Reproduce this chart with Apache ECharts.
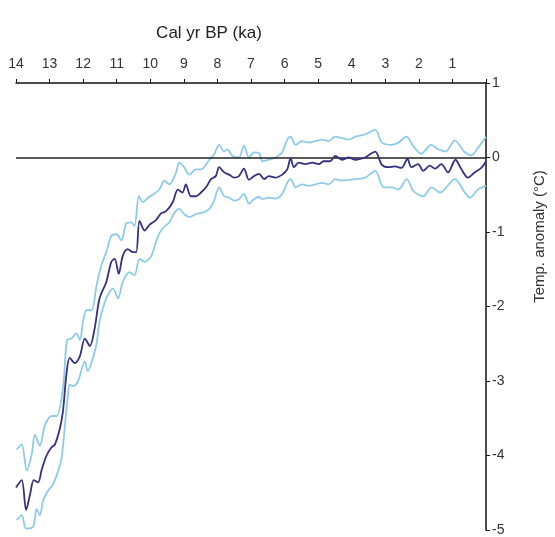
<!DOCTYPE html>
<html>
<head>
<meta charset="utf-8">
<script src="https://cdn.jsdelivr.net/npm/echarts@6/dist/echarts.min.js"></script>
<style>
  html, body { margin: 0; padding: 0; background: #fff; }
  #chart { width: 555px; height: 537px; }
</style>
</head>
<body>
<div id="chart"></div>
<script>
// ages in ka BP, temperatures in °C anomaly
var meanAge = [14.0, 13.83, 13.7, 13.58, 13.47, 13.34, 13.24, 13.09, 12.94, 12.84, 12.69, 12.6, 12.5, 12.4, 12.25, 12.1, 11.95, 11.8, 11.66, 11.51, 11.31, 11.16, 11.06, 10.94, 10.82, 10.67, 10.52, 10.42, 10.32, 10.17, 10.02, 9.83, 9.68, 9.53, 9.33, 9.18, 9.04, 8.94, 8.79, 8.64, 8.49, 8.34, 8.19, 8.05, 7.95, 7.8, 7.65, 7.5, 7.36, 7.21, 7.06, 6.91, 6.76, 6.61, 6.47, 6.27, 6.07, 5.92, 5.82, 5.72, 5.58, 5.38, 5.18, 4.98, 4.84, 4.64, 4.49, 4.29, 4.09, 3.89, 3.6, 3.5, 3.3, 3.1, 2.91, 2.71, 2.52, 2.34, 2.22, 2.02, 1.87, 1.67, 1.52, 1.33, 1.13, 0.91, 0.74, 0.54, 0.34, 0.14, 0.0];
var meanTemp = [-4.43, -4.33, -4.73, -4.52, -4.33, -4.36, -4.2, -4.0, -3.89, -3.85, -3.63, -3.4, -2.92, -2.69, -2.76, -2.67, -2.43, -2.53, -2.3, -1.89, -1.67, -1.4, -1.36, -1.56, -1.32, -1.23, -1.27, -1.27, -0.85, -0.98, -0.9, -0.84, -0.75, -0.72, -0.6, -0.43, -0.47, -0.36, -0.52, -0.52, -0.47, -0.4, -0.29, -0.25, -0.13, -0.2, -0.23, -0.27, -0.25, -0.15, -0.3, -0.25, -0.22, -0.29, -0.25, -0.27, -0.23, -0.16, -0.01, -0.13, -0.07, -0.09, -0.07, -0.09, -0.05, -0.05, 0.02, -0.03, 0.0, -0.03, 0.0, 0.03, 0.08, -0.1, -0.13, -0.12, -0.14, -0.02, -0.13, -0.09, -0.18, -0.11, -0.15, -0.09, -0.2, -0.03, -0.15, -0.27, -0.2, -0.14, -0.05];

var upperAge = [13.98, 13.83, 13.68, 13.53, 13.44, 13.29, 13.14, 12.94, 12.79, 12.6, 12.48, 12.35, 12.2, 12.1, 12.0, 11.9, 11.75, 11.6, 11.46, 11.31, 11.16, 11.01, 10.86, 10.72, 10.57, 10.47, 10.34, 10.22, 10.07, 9.93, 9.73, 9.58, 9.43, 9.23, 9.14, 8.99, 8.84, 8.64, 8.49, 8.24, 8.1, 7.95, 7.8, 7.7, 7.55, 7.36, 7.21, 7.06, 6.91, 6.76, 6.66, 6.47, 6.27, 6.07, 5.92, 5.82, 5.67, 5.48, 5.28, 5.08, 4.88, 4.69, 4.49, 4.29, 4.09, 3.89, 3.6, 3.3, 3.1, 2.81, 2.61, 2.37, 2.16, 1.93, 1.63, 1.42, 1.2, 0.93, 0.63, 0.44, 0.24, 0.0];
var upperTemp = [-3.92, -3.85, -4.2, -3.98, -3.72, -3.87, -3.6, -3.47, -3.47, -3.09, -2.45, -2.43, -2.36, -2.45, -2.2, -2.05, -2.05, -1.72, -1.45, -1.27, -1.05, -1.03, -1.11, -0.89, -0.87, -0.92, -0.52, -0.6, -0.54, -0.5, -0.43, -0.31, -0.36, -0.2, -0.07, -0.13, -0.23, -0.16, -0.16, -0.03, 0.04, 0.17, 0.08, 0.11, 0.02, 0.0, 0.16, 0.0, 0.07, 0.06, -0.05, -0.03, 0.0, 0.07, 0.24, 0.28, 0.17, 0.22, 0.2, 0.22, 0.24, 0.22, 0.28, 0.26, 0.24, 0.28, 0.31, 0.37, 0.2, 0.17, 0.2, 0.28, 0.15, 0.05, 0.17, 0.11, 0.08, 0.23, 0.07, 0.03, 0.13, 0.28];

var lowerAge = [13.98, 13.83, 13.7, 13.49, 13.39, 13.29, 13.19, 13.04, 12.89, 12.74, 12.64, 12.55, 12.45, 12.4, 12.3, 12.15, 11.95, 11.86, 11.71, 11.6, 11.51, 11.31, 11.11, 10.96, 10.82, 10.62, 10.47, 10.32, 10.17, 9.97, 9.78, 9.63, 9.43, 9.28, 9.14, 8.99, 8.84, 8.64, 8.44, 8.24, 8.1, 7.95, 7.8, 7.65, 7.5, 7.36, 7.21, 7.06, 6.91, 6.76, 6.66, 6.47, 6.27, 6.07, 5.92, 5.82, 5.67, 5.48, 5.28, 5.08, 4.88, 4.69, 4.49, 4.29, 4.09, 3.89, 3.6, 3.3, 3.05, 2.81, 2.61, 2.36, 2.16, 1.87, 1.62, 1.37, 0.93, 0.63, 0.48, 0.24, 0.0];
var lowerTemp = [-4.87, -4.8, -4.98, -4.96, -4.72, -4.8, -4.6, -4.47, -4.38, -4.2, -4.03, -3.63, -3.18, -3.05, -3.07, -3.0, -2.74, -2.87, -2.69, -2.5, -2.2, -1.89, -1.76, -1.89, -1.67, -1.54, -1.58, -1.36, -1.4, -1.32, -1.07, -0.95, -0.87, -0.74, -0.69, -0.76, -0.8, -0.76, -0.74, -0.69, -0.58, -0.4, -0.52, -0.54, -0.58, -0.56, -0.49, -0.62, -0.56, -0.53, -0.56, -0.54, -0.55, -0.49, -0.34, -0.29, -0.4, -0.36, -0.38, -0.36, -0.34, -0.36, -0.29, -0.31, -0.3, -0.29, -0.27, -0.18, -0.4, -0.4, -0.43, -0.29, -0.45, -0.52, -0.4, -0.47, -0.29, -0.47, -0.54, -0.43, -0.38];

function zip(xs, ys) {
  return xs.map(function (x, i) { return [x, ys[i]]; });
}

var myChart = echarts.init(document.getElementById('chart'));

var labelStyle = {color: '#333', fontSize: 14, fontFamily: 'Liberation Sans, Arial, sans-serif'};

myChart.setOption({
  animation: false,
  grid: {left: 16, right: 67, top: 83, bottom: 4},
  xAxis: {
    type: 'value',
    position: 'top',
    inverse: true,
    min: 0,
    max: 14,
    interval: 1,
    name: 'Cal yr BP (ka)',
    nameLocation: 'middle',
    nameGap: 41,
    nameTextStyle: {color: '#222', fontSize: 17, fontFamily: 'Liberation Sans, Arial, sans-serif', padding: [0, 84, 0, 0]},
    axisLine: {onZero: false, lineStyle: {color: '#111', width: 1.5}},
    axisTick: {inside: false, length: 4, lineStyle: {color: '#111', width: 1}},
    axisLabel: Object.assign({margin: 12, formatter: function (v) { return v === 0 ? '' : v; }}, labelStyle),
    splitLine: {show: false}
  },
  yAxis: {
    type: 'value',
    position: 'right',
    min: -5,
    max: 1,
    interval: 1,
    name: 'Temp. anomaly (°C)',
    nameLocation: 'middle',
    nameRotate: 90,
    nameGap: 46,
    nameTextStyle: {color: '#333', fontSize: 15, fontFamily: 'Liberation Sans, Arial, sans-serif', padding: [0, 0, 0, 140]},
    axisLine: {show: true, onZero: false, lineStyle: {color: '#111', width: 1.5}},
    axisTick: {show: true, inside: false, length: 4, lineStyle: {color: '#111', width: 1}},
    axisLabel: Object.assign({margin: 6}, labelStyle),
    splitLine: {show: false}
  },
  series: [{
    name: 'upper',
    type: 'line',
    data: zip(upperAge, upperTemp),
    showSymbol: false,
    smooth: 0.3,
    lineStyle: {color: '#8ecbe8', width: 1.8},
    z: 2
  }, {
    name: 'lower',
    type: 'line',
    data: zip(lowerAge, lowerTemp),
    showSymbol: false,
    smooth: 0.3,
    lineStyle: {color: '#8ecbe8', width: 1.8},
    z: 2
  }, {
    name: 'mean',
    type: 'line',
    data: zip(meanAge, meanTemp),
    showSymbol: false,
    smooth: 0.3,
    lineStyle: {color: '#35307f', width: 1.8},
    z: 4,
    markLine: {
      silent: true,
      symbol: 'none',
      label: {show: false},
      lineStyle: {color: '#222', width: 1.5, type: 'solid'},
      data: [{yAxis: 0}],
      z: 3
    }
  }]
});
</script>
</body>
</html>
